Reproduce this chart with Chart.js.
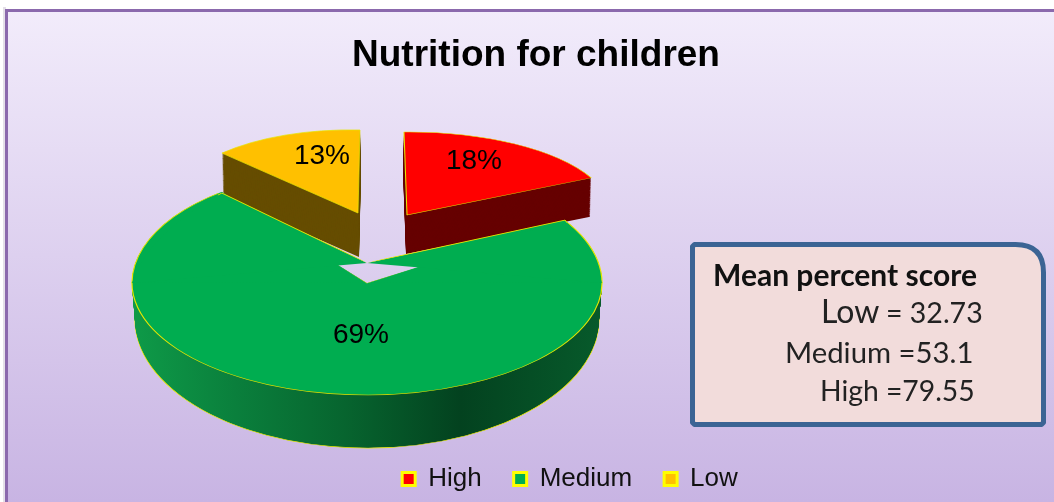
<!DOCTYPE html>
<html><head><meta charset="utf-8">
<style>html,body{margin:0;padding:0;background:#fff;overflow:hidden}canvas{display:block}</style>
<script src="https://cdn.jsdelivr.net/npm/chart.js@4/dist/chart.umd.min.js"></script>
</head><body>
<canvas id="c" width="1054" height="502"></canvas>
<script>
const categories = ['High', 'Medium', 'Low'];
const percentValues = [18, 69, 13];
const sliceColors = ['#ff0000', '#00ad50', '#ffc000'];
const sideColors = ['#660000', null, '#664d00'];
const chartTitle = 'Nutrition for children';
const boxHeading = 'Mean percent score';
const meanLow = '= 32.73';
const meanMedium = 'Medium =53.1';
const meanHigh = 'High =79.55';

const SANS = '"Liberation Sans", Arial, sans-serif';
const BOX = 'Lato, "Open Sans", sans-serif';
const EDGE = '#e6e600';
const DEG = Math.PI/180;

function rotated(cx, cy, rx, ry, deg) {
  const s = Math.sin(deg*DEG), c = Math.cos(deg*DEG);
  return { C:[cx,cy], U:[rx*c, ry*s], V:[rx*s, -ry*c] };
}

// Screen projection of each slice: X = C + U sin(a) + V cos(a)
const views = {
  High: { C:[407,215], U:[205,-2], V:[-3,-83], depth:[-1,39], label:[474,161] },
  Low:  { C:[358,213], U:[188.5,4.2], V:[2,-83], depth:[1,44], label:[322,156] },
  MedUR:{ C:[367,263], U:[235,20],  V:[-34.5,-143] },
  MedUL:{ C:[367,263], U:[235,-20], V:[38,-123.5] },
  MedRimL: rotated(367,283,235,116, 8.7),
  MedRimR: rotated(367,283,235,116,-7.4),
  MedLo:{ C:[367,283], U:[235,0],   V:[0,-112] },
  MedBt:{ C:[367,319], U:[232,0],   V:[0,-129] },
  medLabel:[361,335]
};

function applyView(ctx, arc, v) {
  const R = arc.outerRadius, a = v.U[0]/R, b = v.U[1]/R, c = -v.V[0]/R, d = -v.V[1]/R;
  ctx.transform(a, b, c, d, v.C[0]-a*arc.x-c*arc.y, v.C[1]-b*arc.x-d*arc.y);
}
// clip to a sector given in clockwise-from-top degrees (local to the arc)
function clipSector(ctx, arc, from, to) {
  const R = arc.outerRadius*1.6; ctx.beginPath(); ctx.moveTo(arc.x, arc.y);
  for (let d=from; d<=to+0.001; d+=(to-from)/12) ctx.lineTo(arc.x+R*Math.sin(d*DEG), arc.y-R*Math.cos(d*DEG));
  ctx.closePath(); ctx.clip();
}
function paint(ctx, arc, fill, stroke, width) {
  const keep = arc.options;
  arc.options = { backgroundColor:fill, borderColor:stroke||fill, borderWidth:width||0, borderAlign:'center',
    borderJoinStyle:'round', borderRadius:0, spacing:0, offset:0, circular:true, borderDash:[], borderDashOffset:0 };
  arc.draw(ctx);
  arc.options = keep;
}
function piece(ctx, arc, v, sector, fill, stroke, width) {
  ctx.save(); applyView(ctx, arc, v); if (sector) clipSector(ctx, arc, sector[0], sector[1]);
  paint(ctx, arc, fill, stroke, width); ctx.restore();
}

const pie3d = {
  id:'pie3d',
  beforeDraw(chart){
    const ctx = chart.ctx; ctx.save();
    ctx.fillStyle='#fff'; ctx.fillRect(0,0,1054,502);
    const g = ctx.createLinearGradient(0,9,0,502);
    g.addColorStop(0,'#f2ecfb'); g.addColorStop(1,'#c8b4e3');
    ctx.fillStyle='#e4e0e8'; ctx.fillRect(3,7,3,495);
    ctx.fillStyle=g; ctx.fillRect(6,9,1048,493);
    ctx.fillStyle='#8b69ad'; ctx.fillRect(5,9,1049,3); ctx.fillRect(5,9,3,493);
    ctx.restore();
  },
  afterLayout(chart){
    const t = chart.titleBlock, l = chart.legend;
    t.left += 9; t.right += 9; t.top += 10; t.bottom += 10;
    l.left += 43; l.right += 43; l.top += 9; l.bottom += 9;
  },
  beforeDatasetsDraw(chart){
    const ctx = chart.ctx, arcs = chart.getDatasetMeta(0).data;
    const idx = n => categories.indexOf(n);
    // exploded slices: side wall then top
    ['Low','High'].forEach(n=>{
      const i = idx(n), v = views[n], arc = arcs[i], steps = 46;
      for (let s=steps; s>=1; s--) {
        const t = s/steps;
        piece(ctx, arc, {C:[v.C[0]+v.depth[0]*t, v.C[1]+v.depth[1]*t], U:v.U, V:v.V}, null, sideColors[i]);
      }
      piece(ctx, arc, v, null, sliceColors[i], EDGE, 0.9);
    });
    // main slice: rim wall
    const arc = arcs[idx('Medium')], top = views.MedLo, bot = views.MedBt;
    const rim = ctx.createLinearGradient(arc.x-arc.outerRadius,0,arc.x+arc.outerRadius,0);
    rim.addColorStop(0,'#0e9a48'); rim.addColorStop(.22,'#0a7f3c'); rim.addColorStop(.45,'#07652f');
    rim.addColorStop(.7,'#03421f'); rim.addColorStop(1,'#075a2b');
    const steps = 56, low = [89.5,270.5];
    for (let s=steps; s>=0; s--) {
      const t = s/steps;
      const v = { C:[367, top.C[1]+(bot.C[1]-top.C[1])*t], U:[top.U[0]+(bot.U[0]-top.U[0])*t,0], V:[0, top.V[1]+(bot.V[1]-top.V[1])*t] };
      if (s===steps) piece(ctx, arc, v, low, rim, EDGE, 0.9); else piece(ctx, arc, v, low, rim);
    }
    // main slice: top surface (outline follows one ellipse, wedge edges meet at the apex)
    const green = sliceColors[idx('Medium')];
    piece(ctx, arc, views.MedRimL, [260.8,313.2], green);
    piece(ctx, arc, views.MedRimR, [64.8,97.9], green);
    piece(ctx, arc, views.MedRimL, [261.3,312], green, EDGE, 0.9);
    piece(ctx, arc, views.MedRimR, [66,97.4], green, EDGE, 0.9);
    piece(ctx, arc, views.MedLo, low, green, EDGE, 0.9);
    piece(ctx, arc, views.MedUR, [64.8,90], green);
    piece(ctx, arc, views.MedUL, [270,313.2], green);
    piece(ctx, arc, views.MedUR, [60,66], green, EDGE, 0.9);
    piece(ctx, arc, views.MedUL, [312,318], green, EDGE, 0.9);
    // percent labels
    ctx.save(); ctx.fillStyle='#000'; ctx.font='28px '+SANS; ctx.textAlign='center'; ctx.textBaseline='middle';
    const lab = {High:views.High.label, Low:views.Low.label, Medium:views.medLabel};
    categories.forEach((n,i)=>ctx.fillText(percentValues[i]+'%', lab[n][0], lab[n][1]));
    ctx.restore();
    return false;
  },
  afterDraw(chart){
    const ctx = chart.ctx; ctx.save();
    const x0=692.5,y0=244.5,x1=1043.5,y1=424.5,r=28,s=2;
    ctx.beginPath(); ctx.moveTo(x0+s,y0); ctx.lineTo(x1-r,y0); ctx.quadraticCurveTo(x1,y0,x1,y0+r);
    ctx.lineTo(x1,y1-s); ctx.lineTo(x1-s,y1); ctx.lineTo(x0+s,y1); ctx.lineTo(x0,y1-s); ctx.lineTo(x0,y0+s); ctx.closePath();
    ctx.fillStyle='#f2dcdb'; ctx.fill(); ctx.strokeStyle='#3b6494'; ctx.lineWidth=5; ctx.lineJoin='round'; ctx.stroke();
    ctx.textBaseline='alphabetic'; ctx.textAlign='left'; ctx.fillStyle='#111';
    ctx.font='bold 30px '+BOX; ctx.fillText(boxHeading,713,286);
    ctx.fillStyle='#222';
    ctx.font='32px '+BOX; ctx.fillText(categories[2],821,323);
    ctx.font='28.5px '+BOX; ctx.fillText(meanLow,886,323);
    ctx.font='29.3px '+BOX; ctx.fillText(meanMedium,785,363);
    ctx.font='28.3px '+BOX; ctx.fillText(meanHigh,820,401);
    ctx.restore();
  }
};

new Chart(document.getElementById('c'), {
  type:'pie',
  data:{ labels:categories, datasets:[{ data:percentValues, backgroundColor:sliceColors, borderColor:EDGE, borderWidth:1, hoverOffset:0 }] },
  options:{
    responsive:false, animation:false, events:[],
    layout:{ padding:{ top:0, bottom:9 } },
    plugins:{
      tooltip:{ enabled:false },
      title:{ display:true, text:chartTitle, color:'#000', font:{ family:SANS, size:37, weight:'bold' }, padding:{ top:24, bottom:10 } },
      legend:{ position:'bottom', labels:{ boxWidth:13, boxHeight:13, padding:32, color:'#111', font:{ family:SANS, size:26 },
        generateLabels(chart){ return categories.map((t,i)=>({ text:t, index:i, fillStyle:sliceColors[i], strokeStyle:'#ffff00', lineWidth:3, fontColor:'#111' })); } } }
    }
  },
  plugins:[pie3d]
});
</script>
</body></html>
